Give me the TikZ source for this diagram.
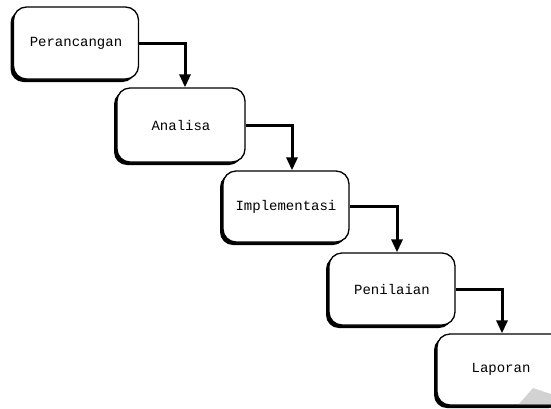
\documentclass[tikz,border=0pt]{standalone}
\usepackage{fontspec}
\setmonofont{Liberation Mono}
\usetikzlibrary{arrows.meta,shadows}
\tikzset{
  stage/.style={draw=black, line width=1.3pt, fill=white, rounded corners=13pt,
    font=\ttfamily\fontsize{14}{16}\selectfont, inner sep=0pt,
    drop shadow={shadow xshift=-3pt, shadow yshift=-3pt, fill=black, opacity=1}},
  flow/.style={line width=3pt, -{Triangle[width=11pt,length=13pt]}},
}
\begin{document}
\begin{tikzpicture}[x=1pt,y=-1pt]
\useasboundingbox (0,0) rectangle (551,408);
\clip (0,0) rectangle (551,408);
\node[stage, minimum width=125pt, minimum height=72pt] (b1) at (76,43) {Perancangan};
\node[stage, minimum width=128pt, minimum height=74pt] (b2) at (181,125) {Analisa};
\node[stage, minimum width=126pt, minimum height=71pt] (b3) at (286,206.5) {Implementasi};
\node[stage, minimum width=126pt, minimum height=72pt] (b4) at (392,289) {Penilaian};
\node[stage, minimum width=128pt, minimum height=71pt] (b5) at (501,369.5) {Laporan};
\draw[flow] (b1.east) -| ([xshift=4pt]b2.north);
\draw[flow] (b2.east) -| ([xshift=6pt]b3.north);
\draw[flow] (b3.east) -| ([xshift=5pt]b4.north);
\draw[flow] (b4.east) -| ([xshift=1pt]b5.north);
\fill[gray!35] (519,404) -- (533,388) -- (551,394) -- (551,404) -- cycle;
\end{tikzpicture}
\end{document}
